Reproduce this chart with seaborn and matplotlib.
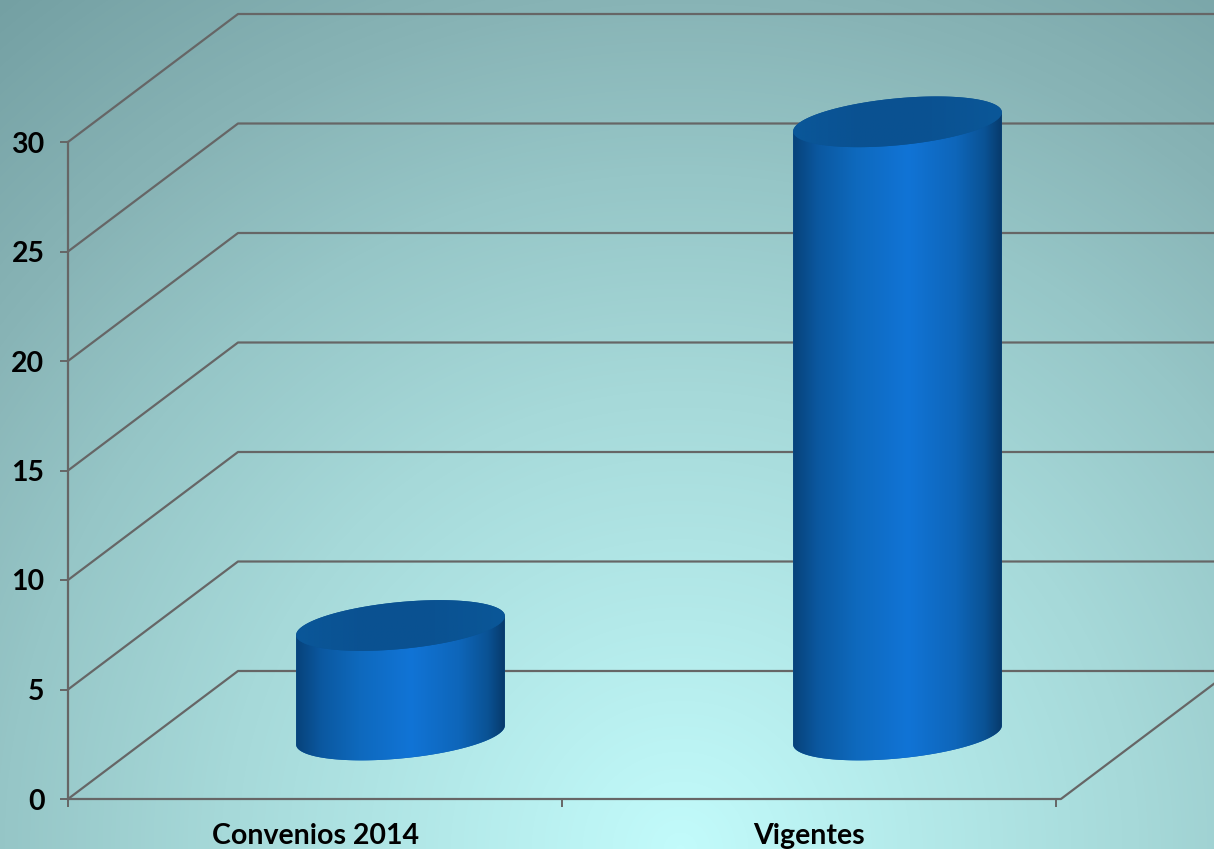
import numpy as np
import pandas as pd
import seaborn as sns
import matplotlib.pyplot as plt
from matplotlib.colors import LinearSegmentedColormap
from matplotlib.patches import Polygon

categories = ['Convenios 2014', 'Vigentes']
values = [5, 28]
yticks = [0, 5, 10, 15, 20, 25, 30]

W, H = 1214, 849
line_color = '#666666'

sns.set_theme(style='white')
plt.rcParams['font.family'] = ['Lato', 'DejaVu Sans']

fig = plt.figure(figsize=(W / 100, H / 100), dpi=100)

# background glow
bg = fig.add_axes([0, 0, 1, 1])
yy, xx = np.mgrid[0:H, 0:W]
dist = np.hypot(xx - 680, yy - 849) / 1088
bg_cmap = LinearSegmentedColormap.from_list('glow', [(0, '#c2fbfb'), (0.42, '#a6d9d9'), (0.62, '#96c6c7'),
                                                     (0.78, '#88b4b6'), (1, '#74a0a3')])
bg.imshow(dist, cmap=bg_cmap, vmin=0, vmax=1, aspect='auto')
bg.axis('off')

# front plane of the fake 3D box
ax = fig.add_axes([68 / W, (H - 799) / H, 988 / W, 657 / H], facecolor='none')
ax.set_xlim(-0.5, 1.5)
ax.set_ylim(0, 30)
px_x = 2 / 988
px_y = 30 / 657
depth_x = 170 * px_x
depth_y = 128 * px_y

for v in yticks:
    ax.plot([-0.5, -0.5 + depth_x, 3], [v, v + depth_y, v + depth_y], color=line_color, lw=1.6, clip_on=False)
ax.plot([-0.5, 1.51, 1.51 + 1.6 * depth_x], [0, 0, 1.6 * depth_y], color=line_color, lw=1.6, clip_on=False)

sns.despine(ax=ax, top=True, right=True, bottom=True)
ax.spines['left'].set_color(line_color)
ax.spines['left'].set_linewidth(1.6)
ax.set_yticks(yticks)
ax.set_xticks([-0.5, 0.5, 1.5])
ax.set_xticklabels([])
ax.set_xticks([0, 1], categories, minor=True)
ax.tick_params(axis='both', which='major', length=6, width=1.4, color=line_color, left=True, bottom=True)
ax.tick_params(axis='y', labelsize=20.5, pad=11, labelcolor='black')
ax.tick_params(axis='x', which='minor', length=0, labelsize=20.5, pad=17.5, labelcolor='black')
for lab in ax.get_yticklabels() + ax.get_xticklabels(minor=True):
    lab.set_fontweight('bold')

# cylinders sit halfway into the box
ax_bars = fig.add_axes([152 / W, (H - 735) / H, 994 / W, 657 / H], facecolor='none')
df = pd.DataFrame({'category': categories, 'value': values})
sns.barplot(data=df, x='category', y='value', ax=ax_bars, width=0.42, color='#0d62b0', saturation=1)
ax_bars.set_xlim(-0.5, 1.5)
ax_bars.set_ylim(0, 30)
ax_bars.axis('off')

body_cmap = LinearSegmentedColormap.from_list('body', [(0, '#07427a'), (0.12, '#0b58a0'), (0.3, '#0e69bd'),
                                                       (0.55, '#1174d6'), (0.78, '#0e66ba'), (0.92, '#0a5294'),
                                                       (1, '#073a6b')])
top_cmap = LinearSegmentedColormap.from_list('top', ['#0a5799', '#0a5191', '#0a5292', '#0a5798'])
strip = np.linspace(0, 1, 256).reshape(1, -1)

t = np.linspace(0, 2 * np.pi, 241)
shear = 9.5 * px_y
minor = 23.5 * px_y

for bar in ax_bars.patches:
    x0 = bar.get_x()
    w = bar.get_width()
    h = bar.get_height()
    cx = x0 + w / 2
    ey = shear * np.cos(t) + minor * np.sin(t)
    low = t[(t >= np.pi) & (t <= 2 * np.pi)]
    body_xy = np.column_stack([cx + w / 2 * np.cos(low), shear * np.cos(low) + minor * np.sin(low)])
    body_xy = np.vstack([[x0, h - shear], body_xy, [x0 + w, h + shear]])
    body = Polygon(body_xy, closed=True, transform=ax_bars.transData, facecolor='#0d62b0', edgecolor='none',
                   clip_on=False, zorder=2)
    ax_bars.add_patch(body)
    im = ax_bars.imshow(strip, cmap=body_cmap, extent=[x0, x0 + w, -2, h + 2], aspect='auto',
                        interpolation='bilinear', zorder=3)
    im.set_clip_box(fig.bbox)
    im.set_clip_path(body)
    top = Polygon(np.column_stack([cx + w / 2 * np.cos(t), h + ey]), closed=True, transform=ax_bars.transData,
                  facecolor='#0a5393', edgecolor='none', clip_on=False, zorder=4)
    ax_bars.add_patch(top)
    im2 = ax_bars.imshow(strip, cmap=top_cmap, extent=[x0, x0 + w, h - 2, h + 2], aspect='auto',
                         interpolation='bilinear', zorder=5)
    im2.set_clip_box(fig.bbox)
    im2.set_clip_path(top)
    bar.set_visible(False)

ax_bars.set_xlim(-0.5, 1.5)
ax_bars.set_ylim(0, 30)

fig.savefig('out.png', dpi=100)
